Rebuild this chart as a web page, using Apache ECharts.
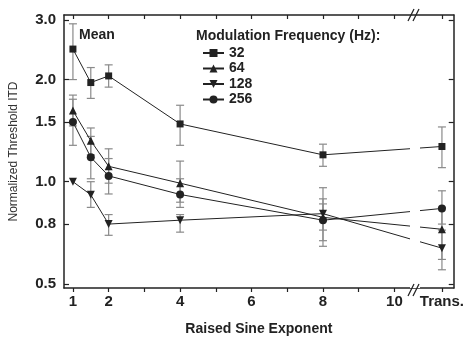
<!DOCTYPE html>
<html>
<head>
<meta charset="utf-8">
<script src="https://cdn.jsdelivr.net/npm/echarts@6/dist/echarts.min.js"></script>
<style>
  html, body { margin: 0; padding: 0; background: #fff; }
  #main { width: 467px; height: 341px; }
</style>
</head>
<body>
<div id="main"></div>
<script>
// x positions; "Trans." sits past the axis break
const xVals = [1, 1.5, 2, 4, 8, 11.33]
const xTicks = [1, 2, 3, 4, 5, 6, 7, 8, 9, 10, 11.33]
const xLabelVals = [1, 2, 4, 6, 8, 10, 11.33]
const xLabels = ['1', '2', '4', '6', '8', '10', 'Trans.']
// log y axis, ticks as they sit in the figure
const yTicks = [0.5, 0.75, 1, 1.5, 2, 3]
const yLabels = ['0.5', '0.8', '1.0', '1.5', '2.0', '3.0']

const names = ['32', '64', '128', '256']
// mean threshold ITD per exponent
const mean32 = [2.46, 1.96, 2.05, 1.48, 1.20, 1.27]
const mean64 = [1.62, 1.32, 1.11, 0.99, 0.785, 0.724]
const mean128 = [1.0, 0.915, 0.75, 0.77, 0.805, 0.637]
const mean256 = [1.50, 1.18, 1.04, 0.917, 0.77, 0.834]
// error bar ends (null = no bar)
const lo32 = [2.00, 1.76, 1.90, 1.28, 1.11, 1.10]
const hi32 = [2.92, 2.17, 2.21, 1.68, 1.29, 1.45]
const lo64 = [1.46, 1.20, 0.99, 0.87, 0.645, 0.59]
const hi64 = [1.80, 1.44, 1.25, 1.15, 0.96, 0.84]
const lo128 = [null, 0.84, 0.695, 0.71, 0.72, 0.55]
const hi128 = [null, 1.0, 0.80, 0.80, 0.86, 0.72]
const lo256 = [1.28, 1.02, 0.92, 0.84, 0.67, 0.75]
const hi256 = [1.75, 1.36, 1.17, 1.02, 0.89, 0.94]

const means = [mean32, mean64, mean128, mean256]
const lows = [lo32, lo64, lo128, lo256]
const highs = [hi32, hi64, hi128, hi256]
const symbols = ['rect', 'triangle', 'triangle', 'circle']
const rotates = [0, 0, 180, 0]

const lg = v => Math.log10(v)
const font = 'Liberation Sans, Arial, sans-serif'
const ink = '#222'

const myChart = echarts.init(document.getElementById('main'))

function errItem(params, api) {
  const x = api.value(0)
  const p1 = api.coord([x, api.value(1)])
  const p2 = api.coord([x, api.value(2)])
  const w = 4
  const style = {stroke: '#8a8a8a', lineWidth: 1.2}
  return {
    type: 'group',
    children: [
      {type: 'line', shape: {x1: p1[0], y1: p1[1], x2: p2[0], y2: p2[1]}, style},
      {type: 'line', shape: {x1: p1[0] - w, y1: p1[1], x2: p1[0] + w, y2: p1[1]}, style},
      {type: 'line', shape: {x1: p2[0] - w, y1: p2[1], x2: p2[0] + w, y2: p2[1]}, style},
    ],
  }
}

const series = []
names.forEach((n, k) => {
  const bars = []
  xVals.forEach((x, i) => {
    if (lows[k][i] != null) bars.push([x, lg(lows[k][i]), lg(highs[k][i])])
  })
  series.push({
    type: 'custom',
    renderItem: errItem,
    data: bars,
    z: 1,
    silent: true,
  })
})
names.forEach((n, k) => {
  series.push({
    name: n,
    type: 'line',
    data: xVals.map((x, i) => [x, lg(means[k][i])]),
    symbol: symbols[k],
    symbolRotate: rotates[k],
    symbolSize: k == 0 ? 7 : 8,
    showAllSymbol: true,
    lineStyle: {color: ink, width: 1},
    itemStyle: {color: ink},
    z: 3,
  })
})

const axisLine = {show: true, onZero: false, lineStyle: {color: ink, width: 1.5}}

const option = {
  animation: false,
  grid: {left: 63, right: 10, top: 15, bottom: 51},
  legend: {
    orient: 'vertical',
    left: 197,
    top: 41,
    itemWidth: 21,
    itemHeight: 10,
    itemGap: 1.5,
    data: names,
    textStyle: {fontFamily: font, fontWeight: 'bold', fontSize: 14, color: ink, lineHeight: 14},
  },
  xAxis: [
    {
      type: 'value',
      min: 0.75,
      max: 11.66,
      position: 'bottom',
      name: 'Raised Sine Exponent',
      nameLocation: 'middle',
      nameGap: 34,
      nameTextStyle: {fontFamily: font, fontWeight: 'bold', fontSize: 14, color: ink},
      axisLine,
      splitLine: {show: false},
      axisTick: {inside: false, length: 4, customValues: xTicks, lineStyle: {color: ink, width: 1.2}},
      axisLabel: {
        customValues: xLabelVals,
        margin: 6,
        fontFamily: font,
        fontWeight: 'bold',
        fontSize: 15,
        color: ink,
        formatter: v => xLabels[xLabelVals.indexOf(v)],
      },
    },
    {
      type: 'value',
      min: 0.75,
      max: 11.66,
      position: 'top',
      axisLine,
      splitLine: {show: false},
      axisTick: {inside: true, length: 4, customValues: xTicks, lineStyle: {color: ink, width: 1.2}},
      axisLabel: {show: false},
    },
  ],
  yAxis: [
    {
      type: 'value',
      min: lg(0.486),
      max: lg(3.10),
      name: 'Normalized Threshold ITD',
      nameLocation: 'middle',
      nameGap: 44,
      nameTextStyle: {fontFamily: font, fontSize: 12, color: '#333'},
      axisLine,
      splitLine: {show: false},
      axisTick: {inside: true, length: 5, customValues: yTicks.map(lg), lineStyle: {color: ink, width: 1.2}},
      axisLabel: {
        customValues: yTicks.map(lg),
        margin: 8,
        fontFamily: font,
        fontWeight: 'bold',
        fontSize: 15,
        color: ink,
        formatter: v => {
          let best = 0
          yTicks.forEach((t, i) => {
            if (Math.abs(lg(t) - v) < Math.abs(lg(yTicks[best]) - v)) best = i
          })
          return yLabels[best]
        },
      },
    },
    {
      type: 'value',
      min: lg(0.486),
      max: lg(3.10),
      position: 'right',
      axisLine,
      splitLine: {show: false},
      axisTick: {inside: true, length: 5, customValues: yTicks.map(lg), lineStyle: {color: ink, width: 1.2}},
      axisLabel: {show: false},
    },
  ],
  graphic: [
    // gap in the lines at the axis break
    {type: 'rect', shape: {x: 410, y: 17, width: 10, height: 271}, style: {fill: '#fff'}, z: 50},
    {type: 'line', shape: {x1: 408, y1: 21, x2: 414, y2: 9}, style: {stroke: ink, lineWidth: 1.2}, z: 60},
    {type: 'line', shape: {x1: 413, y1: 21, x2: 419, y2: 9}, style: {stroke: ink, lineWidth: 1.2}, z: 60},
    {type: 'line', shape: {x1: 408, y1: 296, x2: 414, y2: 284}, style: {stroke: ink, lineWidth: 1.2}, z: 60},
    {type: 'line', shape: {x1: 413, y1: 296, x2: 419, y2: 284}, style: {stroke: ink, lineWidth: 1.2}, z: 60},
    {
      type: 'text', left: 79, top: 28, z: 60,
      style: {text: 'Mean', font: 'bold 14px ' + font, fill: ink},
    },
    {
      type: 'text', left: 196, top: 29, z: 60,
      style: {text: 'Modulation Frequency (Hz):', font: 'bold 14px ' + font, fill: ink},
    },
  ],
  series,
}

myChart.setOption(option)
</script>
</body>
</html>
